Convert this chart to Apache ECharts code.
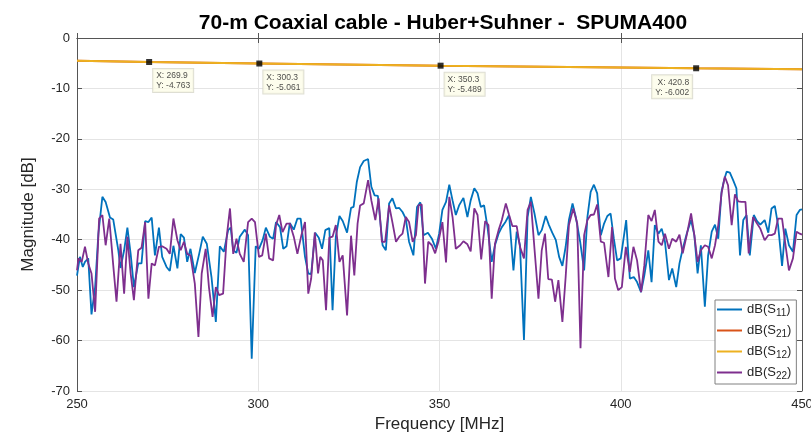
<!DOCTYPE html>
<html>
<head>
<meta charset="utf-8">
<script src="https://cdn.jsdelivr.net/npm/echarts@6/dist/echarts.min.js"></script>
<style>
  html, body { margin: 0; padding: 0; background: #fff; }
  #chart { width: 811px; height: 434px; }
</style>
</head>
<body>
<div id="chart"></div>
<script>
// |S11| 反射 (MHz, dB)
const s11 = [
  [250.0, -47.1], [250.8, -43.4], [251.6, -45.4], [252.2, -44.4], [253.1, -43.7], [254.0, -54.8],
  [255.0, -49.4], [255.9, -38.8], [257.0, -31.5], [257.9, -32.5], [259.1, -35.6], [260.0, -36.0],
  [261.4, -42.1], [262.0, -45.6], [263.0, -42.1], [263.9, -37.6], [264.8, -42.8], [265.7, -49.4],
  [266.9, -44.7], [267.8, -44.7], [268.8, -36.3], [269.7, -36.5], [270.6, -35.6], [271.5, -43.1],
  [272.6, -37.6], [273.5, -43.4], [274.7, -45.4], [275.6, -46.2], [276.6, -41.2], [277.7, -45.7],
  [278.6, -38.9], [279.5, -39.6], [280.4, -44.4], [281.3, -41.8], [282.5, -46.6], [283.7, -42.8],
  [284.7, -39.4], [285.8, -40.8], [287.1, -47.4], [288.3, -56.3], [289.4, -41.3], [290.5, -42.4],
  [291.7, -38.1], [292.4, -37.6], [293.1, -42.1], [294.0, -42.6], [294.9, -39.4], [296.3, -38.0],
  [297.2, -39.1], [298.2, -63.6], [299.3, -41.3], [300.2, -41.8], [301.2, -40.1], [302.1, -37.6],
  [303.2, -39.4], [304.1, -39.8], [304.9, -36.5], [306.0, -37.5], [306.9, -41.8], [307.8, -41.3],
  [308.7, -36.7], [309.8, -38.0], [310.8, -35.8], [311.7, -35.8], [312.9, -43.4], [313.8, -46.7],
  [314.6, -46.8], [315.7, -38.6], [316.7, -39.6], [317.6, -41.8], [318.5, -38.1], [319.6, -37.7],
  [320.5, -54.0], [321.4, -39.4], [322.4, -35.3], [323.3, -36.3], [324.5, -38.6], [325.6, -33.7],
  [326.3, -33.5], [327.2, -28.5], [328.1, -25.6], [329.1, -24.4], [330.3, -24.0], [331.2, -29.5],
  [332.1, -31.2], [333.0, -31.3], [334.3, -41.1], [335.2, -42.1], [336.1, -32.8], [337.0, -31.8],
  [338.0, -33.8], [338.9, -33.7], [339.8, -34.5], [340.7, -35.8], [341.6, -40.4], [342.8, -43.1],
  [343.8, -33.5], [344.7, -32.6], [345.6, -39.1], [346.8, -38.6], [347.9, -39.8], [349.0, -41.8],
  [349.9, -38.8], [350.8, -34.1], [351.8, -32.5], [352.7, -29.1], [353.6, -32.2], [354.5, -35.1],
  [355.4, -33.2], [356.6, -31.7], [357.7, -35.5], [358.6, -32.2], [359.6, -29.8], [360.5, -30.8],
  [361.4, -33.5], [362.3, -33.2], [363.3, -37.8], [364.4, -44.4], [365.3, -41.1], [366.3, -38.8],
  [367.2, -37.5], [368.1, -36.6], [369.2, -35.1], [370.4, -46.1], [371.3, -38.4], [372.2, -41.1],
  [373.3, -59.9], [374.3, -35.5], [375.2, -31.5], [376.2, -34.8], [377.3, -39.1], [378.2, -38.1],
  [379.3, -35.3], [380.2, -37.1], [381.1, -38.6], [382.1, -40.1], [383.0, -43.4], [383.9, -45.2],
  [384.8, -41.4], [385.7, -36.1], [386.7, -32.8], [387.6, -35.5], [388.8, -40.4], [389.9, -46.1],
  [390.8, -35.5], [391.7, -30.5], [392.6, -29.1], [393.5, -30.8], [394.5, -39.1], [395.4, -36.8],
  [396.3, -35.3], [397.2, -34.8], [398.1, -39.8], [399.0, -44.1], [400.0, -43.7], [401.5, -36.1],
  [402.5, -47.7], [403.6, -47.4], [404.5, -48.4], [405.6, -50.4], [406.5, -47.1], [407.6, -42.1],
  [408.5, -48.4], [409.4, -37.1], [410.4, -38.8], [411.3, -37.8], [412.2, -40.4], [413.3, -48.0],
  [414.2, -45.7], [415.3, -49.4], [416.2, -44.7], [417.1, -41.8], [418.2, -38.8], [419.4, -36.1],
  [420.3, -39.1], [421.2, -46.7], [422.1, -41.1], [423.2, -53.3], [424.1, -43.1], [425.1, -38.4],
  [426.0, -37.0], [426.9, -39.8], [427.8, -30.5], [428.5, -28.2], [429.2, -26.5], [430.1, -26.7],
  [431.0, -28.2], [431.9, -29.8], [432.9, -43.1], [433.8, -36.1], [434.7, -35.1], [435.6, -43.1],
  [436.7, -35.1], [437.6, -36.3], [438.5, -37.0], [439.7, -36.1], [440.7, -38.6], [441.6, -33.8],
  [442.5, -33.3], [443.4, -37.1], [444.5, -45.2], [445.4, -37.8], [446.4, -41.1], [447.5, -42.4],
  [448.5, -35.1], [449.4, -34.1], [450.0, -34.0]
]

// |S22| 反射 (MHz, dB)
const s22 = [
  [250.0, -46.1], [250.4, -43.7], [251.3, -44.4], [252.2, -41.4], [253.1, -44.7], [254.0, -46.7],
  [255.0, -54.3], [256.1, -35.8], [257.0, -35.1], [257.9, -41.1], [258.9, -35.8], [260.0, -45.1],
  [260.9, -52.3], [262.0, -40.8], [263.0, -50.7], [263.9, -39.4], [264.8, -46.7], [265.7, -52.0],
  [266.9, -42.1], [267.8, -41.6], [268.8, -36.5], [269.7, -51.7], [270.6, -44.7], [271.5, -45.1],
  [272.6, -41.4], [273.5, -41.3], [274.7, -41.8], [275.6, -42.8], [276.6, -35.8], [277.7, -40.1],
  [278.6, -42.1], [279.5, -40.4], [280.4, -42.8], [281.3, -43.1], [282.5, -48.7], [283.5, -59.3],
  [284.4, -46.7], [285.5, -41.8], [286.4, -49.4], [287.4, -55.3], [288.3, -49.4], [289.2, -51.0],
  [290.3, -50.7], [291.3, -39.4], [292.2, -33.8], [293.1, -42.8], [294.0, -39.8], [294.9, -42.8],
  [296.0, -44.4], [297.2, -36.5], [298.2, -35.8], [299.1, -36.5], [300.2, -43.4], [301.1, -43.1],
  [302.1, -38.8], [303.0, -43.7], [304.1, -44.1], [304.9, -37.1], [305.8, -35.1], [306.7, -38.5],
  [307.8, -36.8], [308.7, -36.8], [309.8, -39.4], [310.8, -42.8], [311.9, -39.1], [312.9, -36.5],
  [313.8, -50.7], [314.6, -47.7], [315.6, -38.6], [316.5, -46.7], [317.1, -43.4], [317.8, -44.1],
  [318.7, -54.0], [319.6, -39.6], [320.5, -39.4], [321.4, -37.1], [322.4, -44.4], [323.3, -43.1],
  [324.5, -55.0], [325.6, -39.2], [326.5, -47.1], [327.4, -36.8], [328.1, -33.2], [329.1, -32.8],
  [330.3, -28.2], [331.2, -32.2], [332.3, -36.1], [333.2, -31.8], [334.1, -40.4], [335.0, -40.4],
  [336.1, -33.2], [337.0, -36.5], [338.0, -40.4], [338.9, -39.4], [339.8, -38.8], [340.7, -35.5],
  [341.6, -36.5], [342.6, -40.4], [343.5, -39.1], [344.2, -33.2], [345.1, -33.0], [346.0, -48.7],
  [346.9, -40.4], [347.9, -41.1], [348.8, -42.7], [349.7, -40.4], [350.8, -36.5], [351.8, -44.5],
  [352.7, -31.5], [353.6, -35.5], [354.5, -41.8], [355.7, -41.1], [356.6, -40.3], [357.7, -40.9],
  [358.6, -42.3], [359.6, -33.8], [360.5, -35.1], [361.5, -43.9], [362.6, -36.3], [363.5, -37.1],
  [364.4, -51.7], [365.3, -40.8], [366.3, -38.1], [367.2, -36.1], [368.3, -32.8], [369.2, -35.1],
  [370.1, -37.3], [371.3, -37.3], [372.2, -41.4], [373.3, -43.7], [374.3, -34.1], [375.2, -32.5],
  [376.2, -41.8], [377.3, -51.7], [378.2, -42.1], [379.1, -38.8], [380.0, -47.8], [381.0, -47.9],
  [381.9, -52.3], [382.8, -48.0], [383.9, -56.3], [384.8, -47.4], [385.7, -37.1], [386.9, -33.8],
  [388.0, -36.8], [388.9, -61.5], [389.9, -39.1], [390.8, -36.1], [391.7, -35.1], [392.6, -35.0],
  [393.5, -33.0], [394.5, -40.4], [395.4, -40.6], [396.6, -47.4], [397.6, -37.5], [398.4, -47.7],
  [399.3, -50.0], [400.3, -49.4], [401.4, -41.4], [402.5, -46.4], [403.5, -41.4], [404.5, -44.1],
  [405.6, -50.4], [406.5, -45.1], [407.6, -35.1], [408.5, -36.3], [409.4, -34.1], [410.4, -40.4],
  [411.3, -41.1], [412.2, -38.8], [413.3, -41.8], [414.2, -39.8], [415.3, -40.4], [416.2, -39.0],
  [417.1, -42.7], [418.2, -39.1], [419.4, -34.8], [420.3, -39.1], [421.2, -44.4], [422.1, -42.1],
  [423.2, -41.1], [424.1, -41.4], [425.1, -43.7], [426.0, -41.1], [426.9, -37.1], [427.8, -30.8],
  [428.7, -27.5], [429.6, -29.2], [430.6, -37.1], [431.5, -31.0], [432.4, -32.4], [433.3, -32.5],
  [434.4, -32.5], [435.3, -42.7], [436.5, -35.5], [437.6, -36.8], [438.5, -37.8], [439.7, -40.1],
  [440.7, -39.1], [441.6, -39.1], [442.5, -38.8], [443.4, -35.8], [444.5, -35.8], [445.4, -40.8],
  [446.4, -46.1], [447.5, -43.7], [448.5, -38.4], [449.4, -38.8], [450.0, -39.0]
]

// 傳輸 S21 / S12（幾乎重疊）
const s21 = [[250, -4.53], [269.9, -4.763], [300.3, -5.061], [350.3, -5.489], [420.8, -6.002], [450, -6.18]]
const s12 = [[250, -4.53], [269.9, -4.763], [300.3, -5.061], [350.3, -5.489], [420.8, -6.002], [450, -6.18]]

// data tips
const tipX = [269.9, 300.3, 350.3, 420.8]
const tipY = [-4.763, -5.061, -5.489, -6.002]

const seriesNames = ['dB(S11)', 'dB(S21)', 'dB(S12)', 'dB(S22)']
const colors = ['#0072BD', '#D95319', '#EDB120', '#7E2F8E']

const myChart = echarts.init(document.getElementById('chart'), null, { renderer: 'canvas' })
const font = "'Liberation Sans', Arial, Helvetica, sans-serif"
const axisColor = '#555'

const tipData = tipX.map((x, i) => {
  const item = { value: [x, tipY[i]] }
  // 最後一個提示框放在左下
  if (i === tipX.length - 1) {
    item.label = { position: [-1, 10], align: 'right' }
  }
  return item
})

const option = {
  animation: false,
  textStyle: { fontFamily: font },
  title: {
    text: '70-m Coaxial cable - Huber+Suhner -  SPUMA400',
    left: 438,
    top: 8,
    textAlign: 'center',
    textStyle: { fontFamily: font, fontSize: 21, fontWeight: 'bold', color: '#000' },
  },
  legend: {
    data: seriesNames,
    orient: 'vertical',
    left: 715,
    top: 300,
    padding: [3, 5, 3, 2],
    itemGap: 6,
    itemWidth: 25,
    itemHeight: 2,
    icon: 'rect',
    backgroundColor: '#fff',
    borderColor: '#808080',
    borderWidth: 1,
    borderRadius: 0,
    formatter: (name) => {
      const m = name.match(/^dB\(S(\d+)\)$/)
      return '{a|dB(S}{s|' + m[1] + '}{a|)}'
    },
    textStyle: {
      fontFamily: font,
      color: '#262626',
      rich: {
        a: { fontSize: 13, color: '#262626', fontFamily: font },
        s: { fontSize: 10, color: '#262626', fontFamily: font, padding: [7, 0, 0, 0] },
      },
    },
  },
  grid: { left: 77, right: 9, top: 38, bottom: 43, outerBoundsMode: 'none' },
  xAxis: [
    {
      type: 'value',
      min: 250,
      max: 450,
      interval: 50,
      name: 'Frequency [MHz]',
      nameLocation: 'middle',
      nameGap: 21,
      nameTextStyle: { fontSize: 17, color: '#262626', fontFamily: font },
      axisLine: { show: true, lineStyle: { color: axisColor, width: 1 } },
      axisTick: { show: true, inside: true, length: 5, lineStyle: { color: axisColor } },
      axisLabel: { fontSize: 13, color: '#262626', margin: 7, fontFamily: font },
      splitLine: { show: true, lineStyle: { color: '#e4e4e4', width: 1 } },
    },
    {
      type: 'value',
      position: 'top',
      min: 250,
      max: 450,
      interval: 50,
      axisLine: { show: true, lineStyle: { color: axisColor, width: 1 } },
      axisTick: { show: true, inside: true, length: 5, lineStyle: { color: axisColor } },
      axisLabel: { show: false },
      splitLine: { show: false },
    },
  ],
  yAxis: [
    {
      type: 'value',
      min: -70,
      max: 0,
      interval: 10,
      name: 'Magnitude [dB]',
      nameLocation: 'middle',
      nameGap: 40,
      nameTextStyle: { fontSize: 17, color: '#262626', fontFamily: font },
      axisLine: { show: true, lineStyle: { color: axisColor, width: 1 } },
      axisTick: { show: true, inside: true, length: 5, lineStyle: { color: axisColor } },
      axisLabel: { fontSize: 13, color: '#262626', margin: 7, fontFamily: font },
      splitLine: { show: true, lineStyle: { color: '#e4e4e4', width: 1 } },
    },
    {
      type: 'value',
      position: 'right',
      min: -70,
      max: 0,
      interval: 10,
      axisLine: { show: true, lineStyle: { color: axisColor, width: 1 } },
      axisTick: { show: true, inside: true, length: 5, lineStyle: { color: axisColor } },
      axisLabel: { show: false },
      splitLine: { show: false },
    },
  ],
  series: [
    {
      name: seriesNames[0],
      type: 'line',
      data: s11,
      showSymbol: false,
      color: colors[0],
      lineStyle: { width: 1.8, color: colors[0] },
    },
    {
      name: seriesNames[1],
      type: 'line',
      data: s21,
      showSymbol: false,
      color: colors[1],
      lineStyle: { width: 2, color: colors[1] },
    },
    {
      name: seriesNames[2],
      type: 'line',
      data: s12,
      showSymbol: false,
      color: colors[2],
      lineStyle: { width: 2, color: colors[2] },
    },
    {
      name: seriesNames[3],
      type: 'line',
      data: s22,
      showSymbol: false,
      color: colors[3],
      lineStyle: { width: 1.8, color: colors[3] },
    },
    {
      name: 'tips',
      type: 'scatter',
      data: tipData,
      symbol: 'rect',
      symbolSize: 6,
      itemStyle: { color: '#000' },
      z: 5,
      label: {
        show: true,
        position: [7, 10],
        align: 'left',
        verticalAlign: 'top',
        formatter: (p) => 'X: ' + p.value[0].toFixed(1) + '\nY: ' + p.value[1].toFixed(3),
        fontSize: 8.5,
        lineHeight: 10,
        color: '#222',
        fontFamily: font,
        backgroundColor: '#fdfde8',
        borderColor: '#d6d6c8',
        borderWidth: 1,
        padding: [2, 3, 1, 3],
      },
    },
  ],
}

myChart.setOption(option, true)
</script>
</body>
</html>
